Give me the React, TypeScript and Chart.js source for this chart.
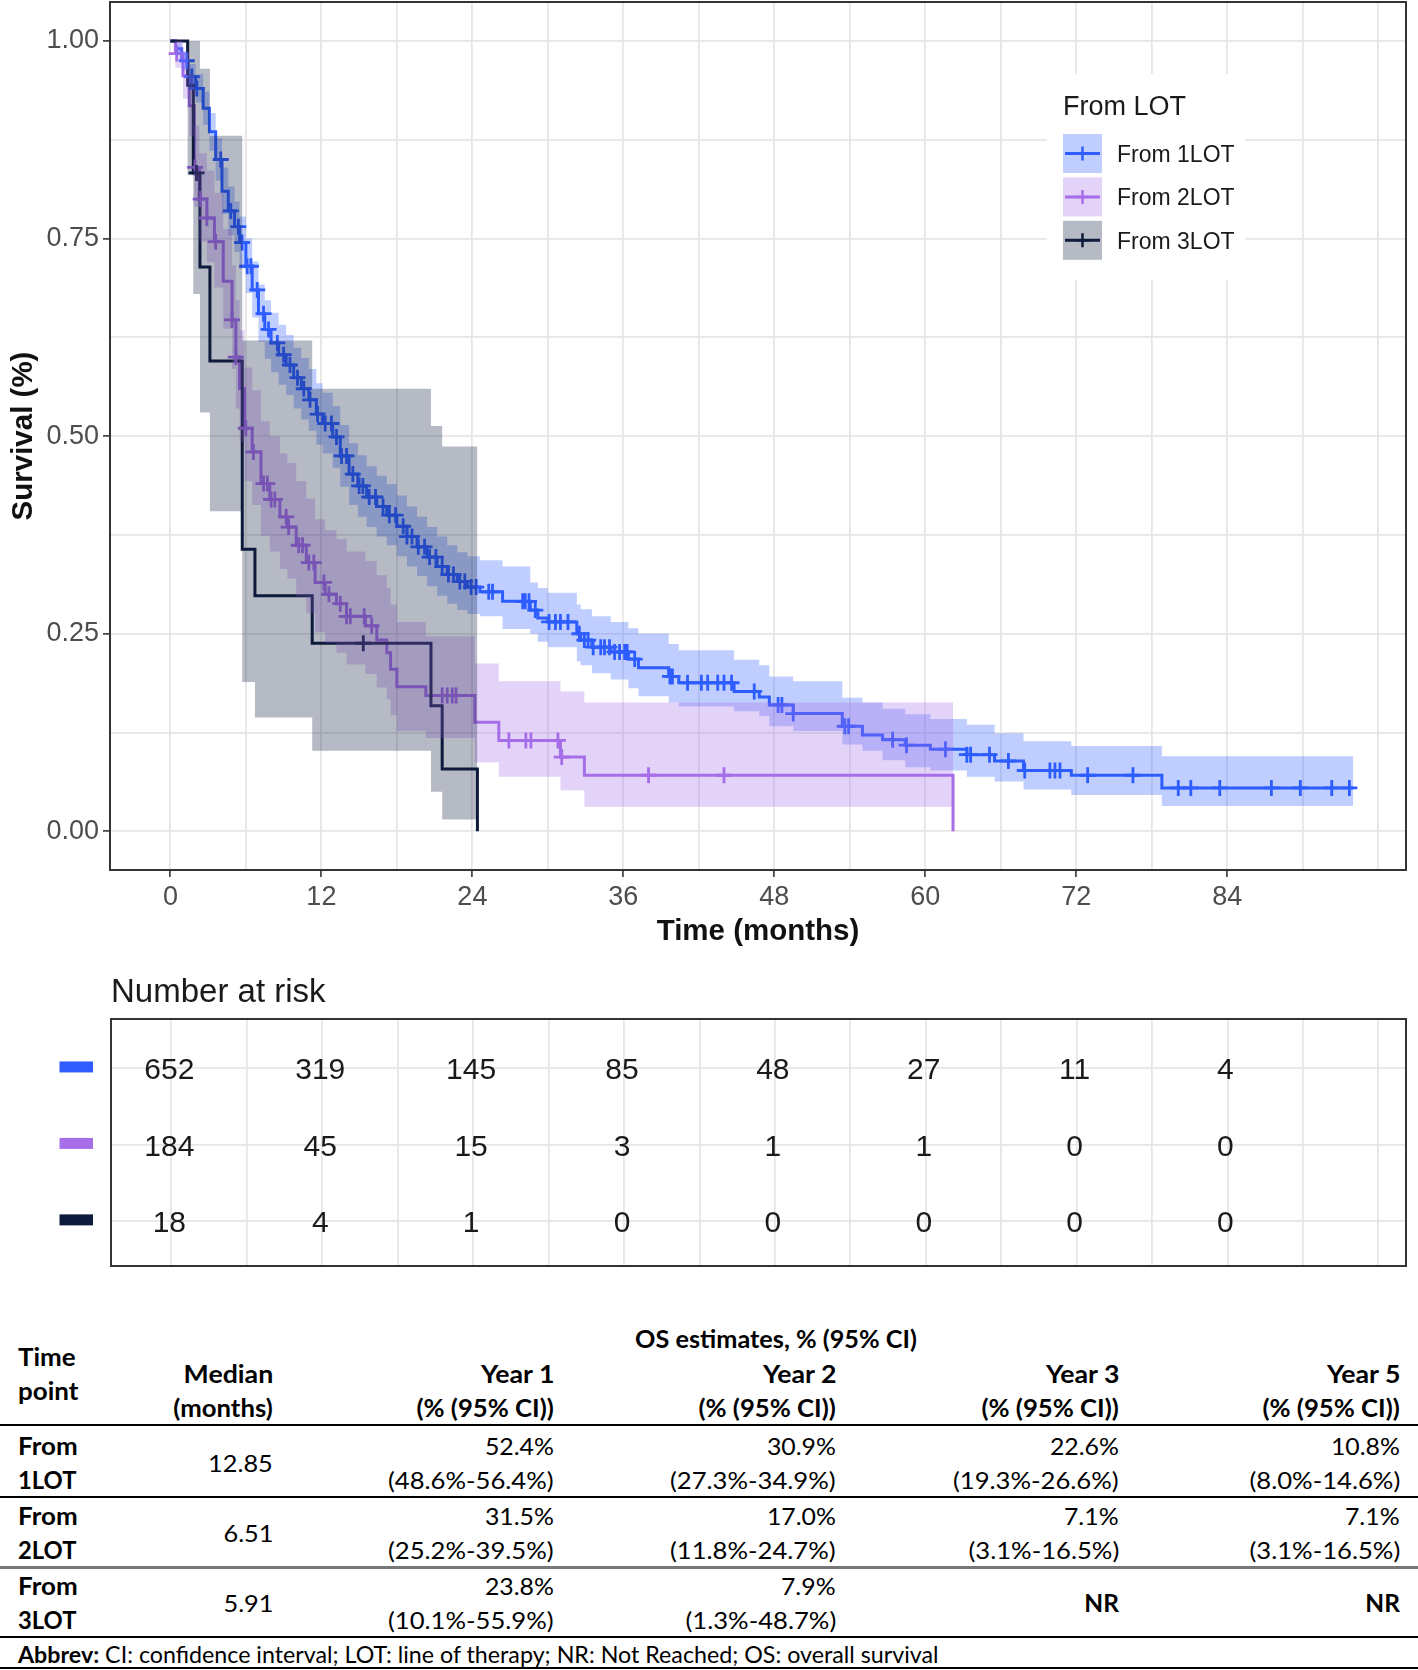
import React, { useEffect, useRef } from 'react';
import { Chart, registerables } from 'chart.js';

Chart.register(...registerables);

const FONT = '"Liberation Sans", Arial, Helvetica, sans-serif';
const TFONT = 'Lato, "Noto Sans", sans-serif';
const PAGE_W = 1418;

// ---------------- axes ----------------
const xGridValues = [0, 6, 12, 18, 24, 30, 36, 42, 48, 54, 60, 66, 72, 78, 84, 90, 96];
const xTickLabels = ['0', '12', '24', '36', '48', '60', '72', '84'];
const yGridValues = [0, 0.125, 0.25, 0.375, 0.5, 0.625, 0.75, 0.875, 1];
const yTickValues = [0, 0.25, 0.5, 0.75, 1];
const yTickLabels = ['0.00', '0.25', '0.50', '0.75', '1.00'];
const xTitle = 'Time (months)';
const yTitle = 'Survival (%)';
const legendTitle = 'From LOT';

// ---------------- series ----------------
const groupNames = ['From 1LOT', 'From 2LOT', 'From 3LOT'];
const lineColors = ['#2F5DFF', '#A66EE8', '#0E1B3D'];
const bandColors = ['rgba(47,93,255,0.3)', 'rgba(166,110,232,0.3)', 'rgba(14,27,61,0.3)'];

const lot1Time = [0, 0.4, 0.9, 1.4, 2.0, 2.6, 3.1, 3.6, 4.1, 4.6, 5.1, 5.5, 6.0, 6.5, 7.0, 7.5, 8.0, 8.6, 9.2, 9.8, 10.4, 11.0, 11.6, 12.1, 12.9, 13.5, 14.2, 14.9, 15.6, 16.4, 17.2, 18.0, 18.8, 19.6, 20.4, 21.2, 22.0, 22.8, 23.6, 24.6, 26.4, 28.6, 29.2, 30.0, 32.3, 32.6, 33.5, 35.0, 36.4, 37.2, 39.6, 40.4, 44.8, 46.8, 47.6, 49.5, 53.4, 55.0, 56.6, 58.4, 60.4, 63.3, 65.5, 67.8, 71.6, 78.8, 94.0];
const lot1Surv = [1, 0.99, 0.975, 0.955, 0.94, 0.915, 0.885, 0.85, 0.81, 0.785, 0.765, 0.745, 0.715, 0.685, 0.655, 0.635, 0.618, 0.603, 0.59, 0.574, 0.56, 0.546, 0.528, 0.516, 0.499, 0.475, 0.452, 0.437, 0.423, 0.411, 0.4, 0.386, 0.373, 0.36, 0.347, 0.335, 0.325, 0.316, 0.309, 0.303, 0.291, 0.28, 0.27, 0.265, 0.25, 0.242, 0.233, 0.227, 0.218, 0.207, 0.196, 0.188, 0.177, 0.17, 0.16, 0.149, 0.133, 0.122, 0.116, 0.109, 0.104, 0.097, 0.089, 0.077, 0.071, 0.055, 0.055];
const lot1Upper = [1, 0.997, 0.987, 0.971, 0.958, 0.936, 0.909, 0.877, 0.84, 0.816, 0.797, 0.778, 0.75, 0.721, 0.692, 0.672, 0.656, 0.641, 0.628, 0.612, 0.599, 0.585, 0.567, 0.555, 0.538, 0.514, 0.491, 0.476, 0.462, 0.45, 0.439, 0.425, 0.411, 0.398, 0.385, 0.373, 0.362, 0.353, 0.348, 0.343, 0.335, 0.315, 0.308, 0.302, 0.287, 0.281, 0.272, 0.265, 0.257, 0.25, 0.237, 0.229, 0.217, 0.21, 0.196, 0.19, 0.169, 0.163, 0.155, 0.148, 0.142, 0.135, 0.124, 0.114, 0.108, 0.095, 0.095];
const lot1Lower = [1, 0.982, 0.963, 0.94, 0.922, 0.894, 0.861, 0.823, 0.781, 0.754, 0.733, 0.712, 0.681, 0.65, 0.619, 0.598, 0.581, 0.565, 0.552, 0.535, 0.521, 0.507, 0.489, 0.478, 0.46, 0.436, 0.413, 0.398, 0.385, 0.373, 0.362, 0.348, 0.335, 0.323, 0.31, 0.298, 0.288, 0.28, 0.275, 0.272, 0.256, 0.25, 0.24, 0.233, 0.215, 0.21, 0.2, 0.192, 0.181, 0.171, 0.163, 0.158, 0.152, 0.146, 0.133, 0.127, 0.11, 0.102, 0.09, 0.081, 0.077, 0.069, 0.063, 0.053, 0.046, 0.032, 0.032];
const lot1Censor = [1.3, 1.7, 2.1, 4.0, 4.8, 5.4, 5.7, 6.1, 6.4, 6.9, 7.4, 7.8, 8.5, 9.0, 9.5, 10.1, 10.6, 11.1, 11.7, 12.3, 12.8, 13.2, 13.6, 14.0, 14.5, 15.0, 15.3, 15.8, 16.3, 16.9, 17.4, 17.9, 18.5, 18.8, 19.2, 19.7, 20.2, 20.6, 21.1, 21.6, 22.1, 22.5, 23.0, 23.4, 23.9, 24.3, 25.3, 25.6, 28.0, 28.2, 28.5, 29.0, 30.1, 30.6, 31.0, 31.6, 32.5, 32.9, 33.2, 33.6, 34.2, 34.5, 34.9, 35.3, 35.7, 36.1, 36.3, 36.9, 39.7, 39.9, 41.1, 42.2, 42.7, 43.5, 44.0, 44.6, 46.4, 48.3, 48.6, 49.5, 53.6, 53.9, 57.4, 58.5, 61.6, 63.3, 63.6, 65.1, 66.6, 67.9, 69.9, 70.3, 70.7, 72.9, 76.5, 80.1, 81.1, 83.4, 87.5, 89.8, 92.3, 93.7];

const lot2Time = [0, 0.4, 1.0, 1.5, 1.9, 2.3, 2.9, 3.5, 4.2, 4.9, 5.2, 5.5, 5.9, 6.5, 7.2, 7.9, 8.7, 9.3, 10.0, 10.8, 11.5, 12.3, 13.2, 14.0, 15.5, 16.4, 17.2, 17.5, 18.0, 20.3, 24.2, 26.1, 31.0, 32.9, 62.2];
const lot2Surv = [1, 0.984, 0.956, 0.918, 0.84, 0.8, 0.776, 0.746, 0.696, 0.647, 0.6, 0.56, 0.51, 0.48, 0.44, 0.42, 0.398, 0.385, 0.362, 0.34, 0.315, 0.3, 0.288, 0.272, 0.26, 0.242, 0.226, 0.205, 0.183, 0.172, 0.138, 0.115, 0.094, 0.071, 0];
const lot2Upper = [1, 1, 0.986, 0.958, 0.893, 0.858, 0.836, 0.808, 0.762, 0.716, 0.672, 0.634, 0.587, 0.558, 0.519, 0.5, 0.478, 0.466, 0.443, 0.421, 0.395, 0.381, 0.37, 0.354, 0.342, 0.324, 0.308, 0.287, 0.265, 0.247, 0.2125, 0.19, 0.177, 0.163, 0.163];
const lot2Lower = [1, 0.966, 0.927, 0.879, 0.79, 0.746, 0.72, 0.688, 0.636, 0.585, 0.535, 0.493, 0.443, 0.413, 0.374, 0.354, 0.332, 0.32, 0.297, 0.276, 0.252, 0.238, 0.226, 0.211, 0.199, 0.182, 0.167, 0.147, 0.127, 0.118, 0.0875, 0.069, 0.052, 0.031, 0.031];
const lot2Censor = [0.5, 1.95, 2.4, 2.9, 3.6, 4.9, 5.2, 6.0, 6.6, 7.4, 7.7, 8.0, 8.3, 9.2, 9.4, 10.2, 10.5, 11.0, 11.4, 12.2, 12.6, 13.5, 14.0, 14.3, 15.4, 16.0, 21.6, 22.0, 22.4, 22.7, 26.9, 28.25, 28.65, 30.8, 31.1, 38.0, 44.0];

const lot3Time = [0, 1.37, 1.82, 2.35, 3.14, 5.71, 6.72, 11.27, 20.71, 21.6, 24.4];
const lot3Surv = [1, 0.944, 0.833, 0.714, 0.595, 0.357, 0.298, 0.238, 0.159, 0.079, 0];
const lot3Upper = [1, 1, 1, 0.965, 0.88, 0.621, 0.621, 0.56, 0.513, 0.487, 0.487];
const lot3Lower = [1, 0.83, 0.68, 0.53, 0.405, 0.189, 0.144, 0.102, 0.05, 0.015, 0.015];
const lot3Censor = [2.08, 15.33];

// ---------------- risk table ----------------
const riskTitle = 'Number at risk';
const riskTimes = [0, 12, 24, 36, 48, 60, 72, 84];
const risk1 = [652, 319, 145, 85, 48, 27, 11, 4];
const risk2 = [184, 45, 15, 3, 1, 1, 0, 0];
const risk3 = [18, 4, 1, 0, 0, 0, 0, 0];
const riskRowY = [3, 2, 1];

// ---------------- summary table ----------------
const tableSuperHeader = 'OS estimates, % (95% CI)';
const firstColHeader = ['Time', 'point'];
const colHeaders = [['Median', '(months)'], ['Year 1', '(% (95% CI))'], ['Year 2', '(% (95% CI))'], ['Year 3', '(% (95% CI))'], ['Year 5', '(% (95% CI))']];
const rowLabels = [['From', '1LOT'], ['From', '2LOT'], ['From', '3LOT']];
const medians = ['12.85', '6.51', '5.91'];
const estYear1 = [['52.4%', '(48.6%-56.4%)'], ['31.5%', '(25.2%-39.5%)'], ['23.8%', '(10.1%-55.9%)']];
const estYear2 = [['30.9%', '(27.3%-34.9%)'], ['17.0%', '(11.8%-24.7%)'], ['7.9%', '(1.3%-48.7%)']];
const estYear3 = [['22.6%', '(19.3%-26.6%)'], ['7.1%', '(3.1%-16.5%)'], ['NR']];
const estYear5 = [['10.8%', '(8.0%-14.6%)'], ['7.1%', '(3.1%-16.5%)'], ['NR']];
const abbrevBold = 'Abbrev:';
const abbrevText = ' CI: confidence interval; LOT: line of therapy; NR: Not Reached; OS: overall survival';

// ---------------- helpers ----------------
const series = [
  { time: lot1Time, surv: lot1Surv, upper: lot1Upper, lower: lot1Lower, censor: lot1Censor },
  { time: lot2Time, surv: lot2Surv, upper: lot2Upper, lower: lot2Lower, censor: lot2Censor },
  { time: lot3Time, surv: lot3Surv, upper: lot3Upper, lower: lot3Lower, censor: lot3Censor },
];
const riskCounts = [risk1, risk2, risk3];

function survAt(times: number[], surv: number[], t: number) {
  let v = surv[0];
  for (let i = 0; i < times.length; i++) {
    if (times[i] <= t) v = surv[i];
    else break;
  }
  return v;
}
const isMajorX = (v: number) => xTickLabels.indexOf(String(v)) >= 0;
const yMajorIndex = (v: number) => yTickValues.findIndex((t) => Math.abs(t - v) < 1e-9);

const GRID = '#E6E6E6';

function buildKMDatasets() {
  const ds: any[] = [];
  series.forEach((s, g) => {
    ds.push({
      type: 'line',
      data: s.time.map((t, i) => ({ x: t, y: s.surv[i] })),
      borderColor: lineColors[g],
      borderWidth: 3,
      stepped: 'before',
      pointRadius: 0,
      fill: false,
      order: 30 - g,
    });
  });
  series.forEach((s, g) => {
    ds.push({
      type: 'line',
      showLine: false,
      data: s.censor.map((t) => ({ x: t, y: survAt(s.time, s.surv, t) })),
      pointStyle: 'cross',
      pointRadius: 8,
      pointBorderWidth: 2.8,
      pointBorderColor: lineColors[g],
      pointBackgroundColor: lineColors[g],
      fill: false,
      order: 20 - g,
    });
  });
  series.forEach((s, g) => {
    const upIdx = ds.length;
    ds.push({
      type: 'line',
      data: s.time.map((t, i) => ({ x: t, y: s.upper[i] })),
      borderColor: 'rgba(0,0,0,0)',
      borderWidth: 0,
      stepped: 'before',
      pointRadius: 0,
      fill: false,
      order: 10 - 2 * g,
    });
    ds.push({
      type: 'line',
      data: s.time.map((t, i) => ({ x: t, y: s.lower[i] })),
      borderColor: 'rgba(0,0,0,0)',
      borderWidth: 0,
      stepped: 'before',
      pointRadius: 0,
      fill: upIdx,
      backgroundColor: bandColors[g],
      order: 9 - 2 * g,
    });
  });
  return ds;
}

const kmDecor = {
  id: 'kmDecor',
  afterDraw(chart: any) {
    const { ctx, chartArea: a } = chart;
    ctx.save();
    // panel border
    ctx.strokeStyle = '#333333';
    ctx.lineWidth = 2;
    ctx.strokeRect(a.left, a.top, a.right - a.left, a.bottom - a.top);
    // axis titles
    ctx.fillStyle = '#111111';
    ctx.font = `bold 29.5px ${FONT}`;
    ctx.textAlign = 'center';
    ctx.textBaseline = 'middle';
    ctx.fillText(xTitle, (a.left + a.right) / 2, 932);
    ctx.save();
    ctx.translate(24, (a.top + a.bottom) / 2);
    ctx.rotate(-Math.PI / 2);
    ctx.fillText(yTitle, 0, 0);
    ctx.restore();
    // legend
    ctx.fillStyle = '#ffffff';
    ctx.fillRect(1047, 74, 198, 206);
    ctx.fillStyle = '#1A1A1A';
    ctx.font = `27px ${FONT}`;
    ctx.textAlign = 'left';
    ctx.textBaseline = 'alphabetic';
    ctx.fillText(legendTitle, 1063, 115);
    groupNames.forEach((name, g) => {
      const y0 = 134 + g * 43.4;
      const size = 39;
      const x0 = 1063;
      ctx.fillStyle = bandColors[g];
      ctx.fillRect(x0, y0, size, size);
      const cy = y0 + size / 2;
      const cx = x0 + size / 2;
      ctx.strokeStyle = lineColors[g];
      ctx.lineWidth = 3;
      ctx.beginPath();
      ctx.moveTo(x0 + 2, cy);
      ctx.lineTo(x0 + size - 2, cy);
      ctx.stroke();
      ctx.lineWidth = 2.5;
      ctx.beginPath();
      ctx.moveTo(cx, cy - 7);
      ctx.lineTo(cx, cy + 7);
      ctx.moveTo(cx - 7, cy);
      ctx.lineTo(cx + 7, cy);
      ctx.stroke();
      ctx.fillStyle = '#1A1A1A';
      ctx.font = `23px ${FONT}`;
      ctx.fillText(name, 1117, cy + 8.5);
    });
    ctx.restore();
  },
};

function KMChart() {
  const ref = useRef<HTMLCanvasElement>(null);
  useEffect(() => {
    const chart = new Chart(ref.current as HTMLCanvasElement, {
      type: 'line',
      data: { datasets: buildKMDatasets() },
      options: {
        responsive: false,
        animation: false,
        events: [],
        layout: { autoPadding: false, padding: { top: 2, right: 12, bottom: 0, left: 0 } },
        plugins: { legend: { display: false }, tooltip: { enabled: false } },
        scales: {
          x: {
            type: 'linear',
            min: -4.8,
            max: 98.2,
            afterBuildTicks: (sc: any) => {
              sc.ticks = xGridValues.map((v) => ({ value: v }));
            },
            afterFit: (sc: any) => {
              sc.height = 90;
              sc.paddingLeft = 0;
              sc.paddingRight = 0;
            },
            border: { display: false },
            grid: {
              color: GRID,
              lineWidth: 1.8,
              drawTicks: true,
              tickLength: 7,
              tickWidth: 1.6,
              tickColor: (c: any) => (c.tick && isMajorX(c.tick.value) ? '#333333' : 'rgba(0,0,0,0)'),
            },
            ticks: {
              autoSkip: false,
              maxRotation: 0,
              padding: 4,
              color: '#4D4D4D',
              font: { family: FONT, size: 27 },
              callback: (v: any) => (isMajorX(Number(v)) ? String(v) : ''),
            },
          },
          y: {
            type: 'linear',
            min: -0.0489,
            max: 1.0493,
            afterBuildTicks: (sc: any) => {
              sc.ticks = yGridValues.map((v) => ({ value: v }));
            },
            afterFit: (sc: any) => {
              sc.width = 110;
              sc.paddingTop = 0;
              sc.paddingBottom = 0;
            },
            border: { display: false },
            grid: {
              color: GRID,
              lineWidth: 1.8,
              drawTicks: true,
              tickLength: 7,
              tickWidth: 1.6,
              tickColor: (c: any) => (c.tick && yMajorIndex(c.tick.value) >= 0 ? '#333333' : 'rgba(0,0,0,0)'),
            },
            ticks: {
              autoSkip: false,
              padding: 4,
              color: '#4D4D4D',
              font: { family: FONT, size: 27 },
              callback: (v: any) => {
                const i = yMajorIndex(Number(v));
                return i >= 0 ? yTickLabels[i] : '';
              },
            },
          },
        },
      },
      plugins: [kmDecor],
    } as any);
    return () => chart.destroy();
  }, []);
  return <canvas ref={ref} width={1418} height={960} style={{ position: 'absolute', left: 0, top: 0, width: 1418, height: 960 }} />;
}

const riskDecor = {
  id: 'riskDecor',
  afterDatasetsDraw(chart: any) {
    const { ctx } = chart;
    ctx.save();
    ctx.font = `30px ${FONT}`;
    ctx.fillStyle = '#1A1A1A';
    ctx.textAlign = 'center';
    ctx.textBaseline = 'alphabetic';
    chart.data.datasets.forEach((_ds: any, g: number) => {
      const meta = chart.getDatasetMeta(g);
      meta.data.forEach((pt: any, i: number) => {
        ctx.fillText(String(riskCounts[g][i]), pt.x - 2, pt.y + 11.5);
      });
    });
    ctx.restore();
  },
  afterDraw(chart: any) {
    const { ctx, chartArea: a } = chart;
    const ys = chart.scales.y;
    ctx.save();
    ctx.strokeStyle = '#333333';
    ctx.lineWidth = 2;
    ctx.strokeRect(a.left, a.top, a.right - a.left, a.bottom - a.top);
    ctx.fillStyle = '#1A1A1A';
    ctx.font = `33px ${FONT}`;
    ctx.textAlign = 'left';
    ctx.textBaseline = 'alphabetic';
    ctx.fillText(riskTitle, a.left, 42);
    riskRowY.forEach((rv, g) => {
      const py = ys.getPixelForValue(rv);
      ctx.fillStyle = lineColors[g];
      ctx.fillRect(59.5, py - 6.5, 33.5, 11);
    });
    ctx.restore();
  },
};

function RiskChart() {
  const ref = useRef<HTMLCanvasElement>(null);
  useEffect(() => {
    const datasets = riskCounts.map((_c, g) => ({
      type: 'line',
      showLine: false,
      pointRadius: 0,
      data: riskTimes.map((t) => ({ x: t, y: riskRowY[g] })),
    }));
    const chart = new Chart(ref.current as HTMLCanvasElement, {
      type: 'line',
      data: { datasets },
      options: {
        responsive: false,
        animation: false,
        events: [],
        layout: { autoPadding: false, padding: { top: 59, right: 12, bottom: 24, left: 111 } },
        plugins: { legend: { display: false }, tooltip: { enabled: false } },
        scales: {
          x: {
            type: 'linear',
            min: -4.8,
            max: 98.2,
            afterBuildTicks: (sc: any) => {
              sc.ticks = xGridValues.map((v) => ({ value: v }));
            },
            afterFit: (sc: any) => {
              sc.height = 0;
              sc.paddingLeft = 0;
              sc.paddingRight = 0;
            },
            border: { display: false },
            grid: { color: GRID, lineWidth: 1.8, drawTicks: false },
            ticks: { display: false },
          },
          y: {
            type: 'linear',
            min: 0.41,
            max: 3.64,
            afterBuildTicks: (sc: any) => {
              sc.ticks = riskRowY.map((v) => ({ value: v }));
            },
            afterFit: (sc: any) => {
              sc.width = 0;
              sc.paddingTop = 0;
              sc.paddingBottom = 0;
            },
            border: { display: false },
            grid: { color: GRID, lineWidth: 1.8, drawTicks: false },
            ticks: { display: false },
          },
        },
      },
      plugins: [riskDecor],
    } as any);
    return () => chart.destroy();
  }, []);
  return <canvas ref={ref} width={1418} height={330} style={{ position: 'absolute', left: 0, top: 960, width: 1418, height: 330 }} />;
}

// ---------------- summary table (HTML) ----------------
function T({ x, y, align, bold, sx, size, children }: { x: number; y: number; align: 'left' | 'right' | 'center'; bold?: boolean; sx?: number; size?: number; children: any }) {
  const k = sx !== undefined ? sx : 1.09;
  const style: any = {
    position: 'absolute',
    top: y - 15,
    height: 30,
    lineHeight: '30px',
    whiteSpace: 'nowrap',
    fontSize: size !== undefined ? size : bold ? 24.5 : 23,
    fontWeight: bold ? 700 : 400,
    color: '#000',
    fontFamily: TFONT,
  };
  if (align === 'left') {
    style.left = x;
    style.transform = `scaleX(${k})`;
    style.transformOrigin = 'left center';
  } else if (align === 'right') {
    style.right = PAGE_W - x;
    style.transform = `scaleX(${k})`;
    style.transformOrigin = 'right center';
  } else {
    style.left = x;
    style.transform = `translateX(-50%) scaleX(${k})`;
    style.transformOrigin = 'center center';
  }
  return <div style={style}>{children}</div>;
}

function HLine({ y, h, color }: { y: number; h: number; color: string }) {
  return <div style={{ position: 'absolute', left: 0, width: PAGE_W, top: y - h / 2, height: h, background: color }} />;
}

const colRight = [273, 554, 836, 1119, 1400];
const rowCenters = [[1446, 1480], [1516, 1550], [1586, 1620]];

function SummaryTable() {
  const estCols = [estYear1, estYear2, estYear3, estYear5];
  return (
    <div>
      <T x={776} y={1339} align="center" bold sx={1.03}>{tableSuperHeader}</T>
      <T x={18} y={1357} align="left" bold sx={1.06}>{firstColHeader[0]}</T>
      <T x={18} y={1391} align="left" bold sx={1.06}>{firstColHeader[1]}</T>
      {colHeaders.map((h, c) => (
        <React.Fragment key={'h' + c}>
          <T x={colRight[c]} y={1374} align="right" bold>{h[0]}</T>
          <T x={colRight[c]} y={1408} align="right" bold sx={1.05}>{h[1]}</T>
        </React.Fragment>
      ))}
      <HLine y={1425} h={2.5} color="#000" />
      {rowLabels.map((lab, r) => {
        const [y1, y2] = rowCenters[r];
        const ym = (y1 + y2) / 2;
        return (
          <React.Fragment key={'r' + r}>
            <T x={18} y={y1} align="left" bold sx={1.06}>{lab[0]}</T>
            <T x={18} y={y2} align="left" bold sx={0.97}>{lab[1]}</T>
            <T x={colRight[0]} y={ym} align="right" sx={1.1}>{medians[r]}</T>
            {estCols.map((col, c) => {
              const cell = col[r];
              if (cell.length === 1) {
                return <T key={'c' + c} x={colRight[c + 1]} y={ym} align="right" bold sx={1.0}>{cell[0]}</T>;
              }
              return (
                <React.Fragment key={'c' + c}>
                  <T x={colRight[c + 1]} y={y1} align="right" sx={1.08}>{cell[0]}</T>
                  <T x={colRight[c + 1]} y={y2} align="right" sx={1.115}>{cell[1]}</T>
                </React.Fragment>
              );
            })}
          </React.Fragment>
        );
      })}
      <HLine y={1497} h={2} color="#000" />
      <HLine y={1567} h={3} color="#777" />
      <HLine y={1637} h={2} color="#000" />
      <T x={18} y={1654} align="left" sx={1.01}><b>{abbrevBold}</b>{abbrevText}</T>
      <HLine y={1668} h={2} color="#000" />
    </div>
  );
}

export default function App() {
  useEffect(() => {
    document.body.style.margin = '0';
  }, []);
  return (
    <div style={{ position: 'absolute', left: 0, top: 0, width: PAGE_W, height: 1670, background: '#fff', overflow: 'hidden' }}>
      <KMChart />
      <RiskChart />
      <SummaryTable />
    </div>
  );
}
